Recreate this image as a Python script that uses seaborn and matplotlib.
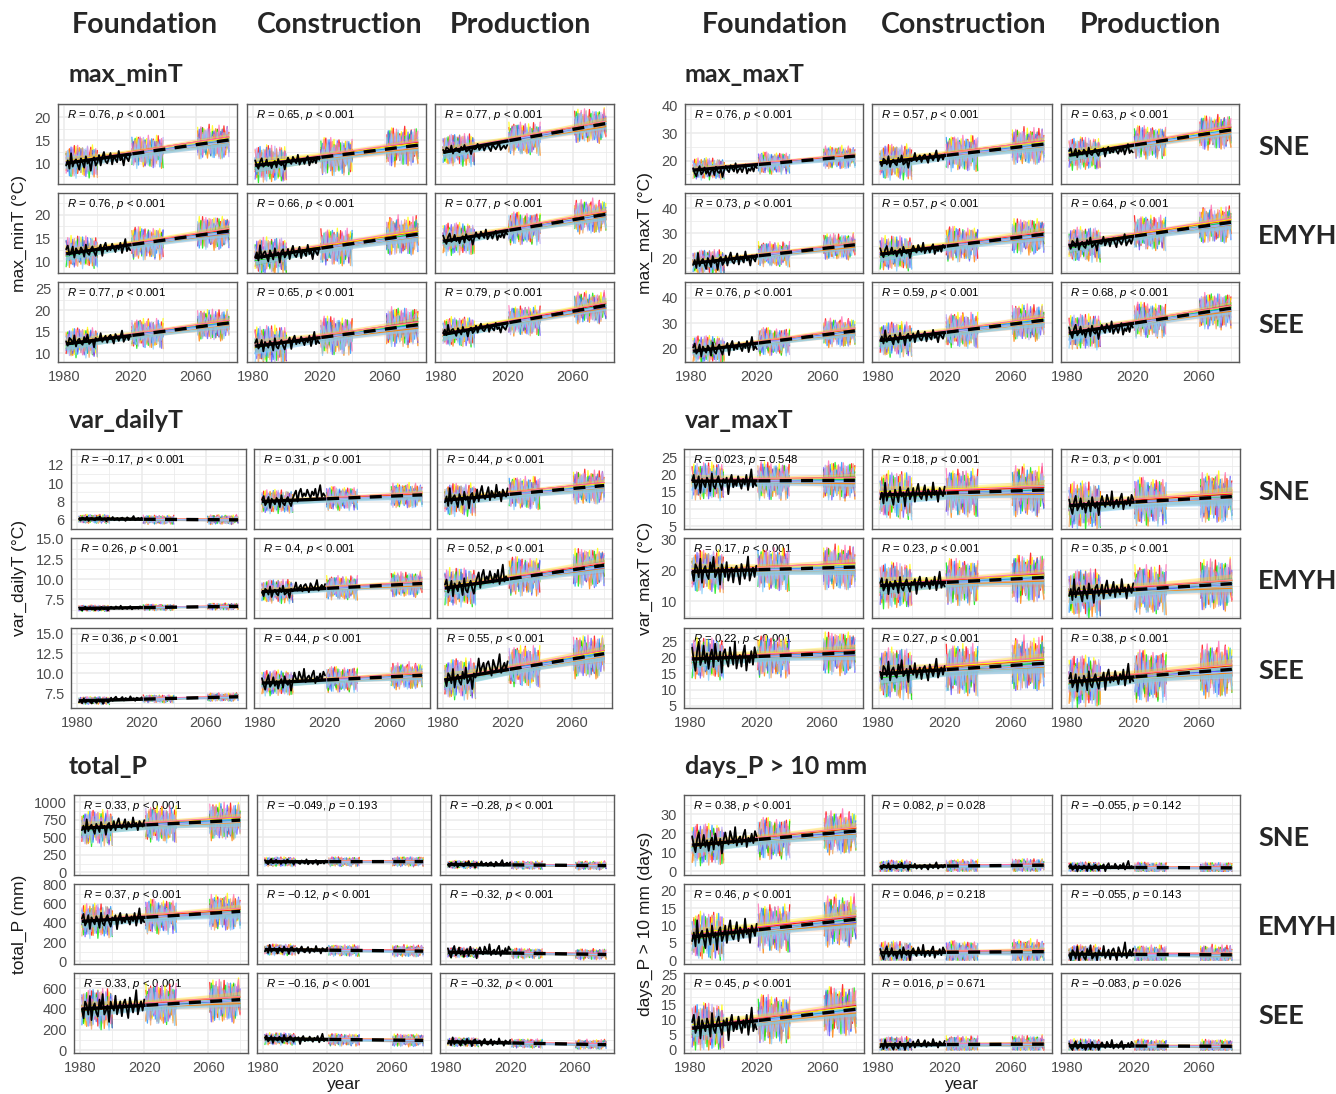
import numpy as np
import pandas as pd
import matplotlib
matplotlib.use("Agg")
import matplotlib.pyplot as plt
import seaborn as sns

sns.set_style("white")
plt.rcParams["font.family"] = ["Liberation Sans", "DejaVu Sans"]
plt.rcParams["mathtext.fontset"] = "custom"
plt.rcParams["mathtext.it"] = "Liberation Sans:italic"
plt.rcParams["mathtext.rm"] = "Liberation Sans"

W, H = 1336, 1094

stages = ["Foundation", "Construction", "Production"]
regions = ["SNE", "EMYH", "SEE"]

obs_years = np.arange(1981, 2021)
model_years = np.concatenate([np.arange(1981, 2001), np.arange(2021, 2041), np.arange(2061, 2081)])

model_colors = ["#FF0000", "#FF8000", "#FFFF00", "#00E600", "#1E90FF",
                "#6650FF", "#FF6EB4", "#F4A460", "#B9A8F5", "#87CEFA"]
band_alpha = [0.07, 0.12, 0.32, 0.2, 0.1, 0.05, 0.07, 0.2, 0.1, 0.6]
model_bias = [0.25, -0.15, 0.4, -0.35, 0.1, -0.05, 0.3, -0.25, 0.15, -0.4]
model_drift = [0.2, -0.3, 0.1, 0.35, -0.1, -0.2, 0.3, 0.0, -0.3, 0.15]

# year-to-year departures of each model run, in tenths of the panel spread
model_anoms = [
    [4,-3,7,-6,1,9,-2,-8,3,5,-4,0,6,-7,2,8,-5,1,-3,6,-2,5,-7,3,8,-4,0,6,-9,2,4,-1,-6,7,1,-3,9,-5,2,-2,6,-4,1,8,-7,3,-2,10,-5,0,4,-8,7,-1,3,-6,9,-3,2,5],
    [-5,2,8,-3,-7,4,1,-6,9,-2,3,-8,5,0,-4,7,-1,-9,6,2,3,-6,1,9,-4,-2,7,-8,4,0,-5,8,2,-7,5,-3,1,6,-9,3,-3,7,-6,2,9,-1,-8,4,6,-5,1,10,-4,-7,3,8,-2,-6,5,0],
    [1,-7,3,6,-2,-5,8,0,-4,7,-9,2,5,-3,1,-6,9,-1,4,-8,6,0,-3,8,-6,2,5,-9,1,7,-4,3,-2,6,-7,9,0,-5,4,-1,8,-6,3,-2,7,-9,1,5,-4,9,-3,0,6,-8,2,7,-5,4,-1,-7],
    [6,1,-4,-8,5,3,-6,9,-1,-3,7,-5,2,4,-9,0,6,-2,8,-4,-7,4,9,-1,-5,6,-3,2,8,-6,0,-8,5,3,-2,7,-4,-1,6,-9,2,5,-7,9,-3,-6,4,1,-8,7,0,-4,8,-2,6,-9,3,5,-1,-5],
    [-2,5,-9,4,7,-1,-4,6,2,-7,8,-3,0,5,-6,3,-8,7,-2,1,9,-5,-2,4,-8,6,1,-3,7,-4,3,-7,8,0,-5,2,6,-9,5,-1,-6,2,9,-4,0,-7,5,8,-3,1,-9,6,-1,4,7,-5,2,-3,10,-6],
    [3,-6,0,9,-4,2,-7,5,-1,8,-3,6,-9,1,4,-2,7,-5,3,-8,0,7,-4,-6,5,9,-3,1,-8,4,6,-2,3,-9,7,-5,0,8,-3,2,-5,9,-2,-8,4,6,-1,3,-7,5,8,-4,0,-6,2,9,-8,1,6,-3],
    [-8,4,2,-3,6,-7,1,9,-5,0,5,-2,-6,8,-4,3,1,-9,7,-1,4,-9,6,2,-3,8,-7,0,5,-4,9,-1,-6,3,-8,5,2,-4,7,-2,3,-5,8,-9,1,6,-3,7,-6,2,-1,5,-8,9,-2,4,-7,3,8,-4],
    [7,-4,-1,5,-8,2,6,-3,0,-6,9,-7,3,1,-5,8,-2,-4,6,-9,-1,3,8,-7,2,-5,9,-2,-6,5,-3,6,-8,1,4,-6,7,-1,-4,8,5,-9,2,7,-3,-1,8,-6,4,-2,6,-7,3,1,-9,5,-4,8,-2,7],
    [0,6,-5,-2,8,-9,4,3,-6,2,-1,7,-4,9,-3,-6,2,5,-8,4,2,-8,5,-1,7,-3,-6,9,0,-7,8,-4,1,6,-9,3,-2,5,-6,9,-7,3,-5,1,8,-4,9,-2,-6,4,2,-3,7,-9,5,0,-6,4,9,-8],
    [-3,8,-1,-7,3,5,-9,2,7,-4,1,-2,9,-6,0,4,-7,6,-3,5,-6,1,4,-9,9,-2,3,-5,6,-1,-7,5,-3,8,-2,-4,6,-8,3,1,4,-1,-9,6,-5,8,0,-3,7,-8,3,-6,5,2,-4,-9,7,-1,3,6],
]

# observed year-to-year departures, in tenths of the panel spread
obs_anoms = [
    [-3,2,-6,9,-4,1,3,-2,-7,4,0,-5,6,-1,2,-8,3,5,-3,0,4,-6,2,7,-2,-4,1,6,-5,3,0,-3,8,-1,2,-6,4,1,-2,5],
    [5,-2,-7,3,8,-4,-1,6,-3,2,-6,1,4,-5,7,0,-2,3,-8,2,5,-1,-4,6,1,-3,9,-5,0,2,-4,3,7,-6,1,-2,4,-3,6,2],
    [0,-5,4,2,-3,7,-6,1,3,-2,-4,5,0,8,-3,-1,2,-7,4,1,-2,6,-4,0,3,-5,2,4,-1,-6,5,1,-3,2,9,-4,0,3,-2,4],
    [2,6,-4,-1,5,-7,3,0,-3,4,1,-6,7,-2,-4,2,5,-1,-5,3,0,4,-8,2,6,-3,1,-2,5,0,-4,3,-1,6,-5,2,10,-3,1,-2],
]

# panel order in every list: SNE (F, C, P), EMYH (F, C, P), SEE (F, C, P)
max_minT_obs_early = [10.3, 10.0, 13.0, 12.2, 11.5, 14.8, 12.8, 12.0, 15.2]
max_minT_obs_late = [11.0, 10.6, 13.5, 12.8, 11.8, 15.5, 13.5, 12.8, 15.8]
max_minT_obs_spread = [2.2, 1.5, 1.3, 2.0, 2.2, 1.5, 2.0, 2.2, 1.6]
max_minT_hist = [10.5, 10.0, 13.0, 12.0, 11.2, 14.8, 12.5, 12.0, 15.0]
max_minT_mid = [12.5, 11.5, 15.3, 13.8, 13.0, 17.0, 14.5, 14.0, 17.5]
max_minT_end = [14.5, 13.5, 18.0, 16.0, 15.3, 19.5, 16.5, 16.0, 20.5]
max_minT_spread = [3.5, 4.0, 3.5, 3.5, 4.0, 3.5, 3.5, 4.5, 3.5]
max_minT_R = ["0.76", "0.65", "0.77", "0.76", "0.66", "0.77", "0.77", "0.65", "0.79"]
max_minT_p = ["< 0.001"] * 9

max_maxT_obs_early = [16.0, 19.5, 23.0, 18.5, 22.5, 25.5, 19.5, 24.0, 26.5]
max_maxT_obs_late = [16.8, 21.0, 23.5, 19.5, 23.5, 26.5, 20.5, 24.5, 27.5]
max_maxT_obs_spread = [2.5, 3.0, 2.5, 4.0, 3.0, 3.5, 4.0, 3.5, 3.5]
max_maxT_hist = [17.0, 19.5, 22.5, 18.5, 22.0, 25.5, 19.5, 23.5, 26.5]
max_maxT_mid = [19.0, 22.5, 26.5, 21.5, 25.5, 30.0, 22.5, 27.0, 31.0]
max_maxT_end = [21.0, 25.0, 30.0, 24.5, 28.5, 33.0, 26.0, 30.0, 34.5]
max_maxT_spread = [4.0, 6.5, 6.0, 5.0, 7.0, 7.0, 5.5, 7.0, 7.0]
max_maxT_R = ["0.76", "0.57", "0.63", "0.73", "0.57", "0.64", "0.76", "0.59", "0.68"]
max_maxT_p = ["< 0.001"] * 9

var_dailyT_obs_early = [6.1, 8.0, 8.3, 6.35, 8.4, 9.0, 6.5, 8.8, 9.3]
var_dailyT_obs_late = [6.1, 8.8, 8.8, 6.45, 9.0, 10.2, 6.8, 9.5, 10.8]
var_dailyT_obs_spread = [0.35, 1.0, 1.3, 0.3, 1.0, 1.6, 0.4, 1.2, 1.8]
var_dailyT_hist = [6.1, 8.0, 8.2, 6.4, 8.5, 9.0, 6.6, 8.8, 9.3]
var_dailyT_mid = [6.0, 8.3, 8.9, 6.5, 8.9, 10.3, 6.8, 9.2, 10.8]
var_dailyT_end = [6.0, 8.6, 9.5, 6.6, 9.3, 11.3, 7.0, 9.6, 12.0]
var_dailyT_spread = [0.5, 1.3, 1.8, 0.4, 1.5, 2.4, 0.5, 1.6, 2.6]
var_dailyT_R = ["\u22120.17", "0.31", "0.44", "0.26", "0.4", "0.52", "0.36", "0.44", "0.55"]
var_dailyT_p = ["< 0.001"] * 9

var_maxT_obs_early = [17.5, 14.0, 11.0, 19.5, 15.0, 13.0, 20.0, 15.5, 12.5]
var_maxT_obs_late = [17.5, 14.5, 12.0, 19.0, 15.5, 13.5, 19.5, 15.5, 13.5]
var_maxT_obs_spread = [4.0, 4.0, 3.5, 6.0, 4.0, 4.5, 6.0, 4.5, 4.5]
var_maxT_hist = [18.0, 14.0, 11.0, 19.5, 15.0, 12.5, 19.5, 15.0, 12.5]
var_maxT_mid = [18.0, 14.5, 12.0, 20.0, 16.0, 13.5, 20.0, 16.0, 14.0]
var_maxT_end = [18.0, 15.0, 13.0, 20.5, 17.0, 15.0, 21.0, 17.5, 15.5]
var_maxT_spread = [5.5, 7.0, 7.0, 7.0, 7.5, 8.0, 6.5, 8.0, 8.0]
var_maxT_R = ["0.023", "0.18", "0.3", "0.17", "0.23", "0.35", "0.22", "0.27", "0.38"]
var_maxT_p = ["= 0.548"] + ["< 0.001"] * 8

total_P_obs_early = [640, 150, 110, 420, 120, 95, 400, 110, 80]
total_P_obs_late = [680, 140, 120, 430, 115, 105, 420, 105, 75]
total_P_obs_spread = [130, 50, 60, 120, 55, 80, 180, 55, 50]
total_P_hist = [630, 150, 110, 420, 120, 90, 400, 110, 80]
total_P_mid = [680, 150, 100, 460, 110, 80, 440, 100, 65]
total_P_end = [720, 150, 95, 500, 105, 70, 470, 95, 55]
total_P_spread = [260, 70, 60, 180, 60, 55, 200, 60, 45]
total_P_R = ["0.33", "\u22120.049", "\u22120.28", "0.37", "\u22120.12", "\u22120.32", "0.33", "\u22120.16", "\u22120.32"]
total_P_p = ["< 0.001", "= 0.193", "< 0.001", "< 0.001", "< 0.001", "< 0.001", "< 0.001", "< 0.001", "< 0.001"]

days_P_obs_early = [15, 2.5, 2.0, 7.0, 2.0, 1.5, 8.0, 1.5, 1.2]
days_P_obs_late = [17, 2.5, 2.5, 8.0, 2.2, 2.0, 8.0, 2.0, 1.5]
days_P_obs_spread = [7, 2.5, 3.0, 5.0, 2.5, 3.5, 6.0, 2.0, 2.0]
days_P_hist = [14, 2.5, 2.0, 7.0, 2.0, 1.5, 7.5, 1.5, 1.2]
days_P_mid = [17, 2.7, 1.8, 9.0, 2.0, 1.3, 10.0, 1.6, 1.0]
days_P_end = [20, 3.0, 1.6, 11.0, 2.2, 1.2, 12.5, 1.6, 0.9]
days_P_spread = [11, 3.5, 3.0, 7.0, 3.5, 3.0, 8.0, 3.0, 2.5]
days_P_R = ["0.38", "0.082", "\u22120.055", "0.46", "0.046", "\u22120.055", "0.45", "0.016", "\u22120.083"]
days_P_p = ["< 0.001", "= 0.028", "= 0.142", "< 0.001", "= 0.218", "= 0.143", "< 0.001", "= 0.671", "= 0.026"]

ROWS_TOP = [(104, 184), (193, 273), (282, 362)]
ROWS_MID = [(449, 529), (538, 618), (628, 708)]
ROWS_BOT = [(795, 875), (884, 964), (973, 1053)]

blocks = [
    dict(title="max_minT", ytitle="max_minT (\u00b0C)", side="L", rows=ROWS_TOP,
         cols=[(58, 237), (247, 426), (435, 614)],
         ylims=[(5.7, 22.8), (7.5, 24.7), (8.0, 26.6)],
         yticks=[[10, 15, 20], [10, 15, 20], [10, 15, 20, 25]], fmt=["g", "g", "g"],
         obs_early=max_minT_obs_early, obs_late=max_minT_obs_late, obs_spread=max_minT_obs_spread,
         hist=max_minT_hist, mid=max_minT_mid, end=max_minT_end, spread=max_minT_spread,
         R=max_minT_R, p=max_minT_p, clip=False),
    dict(title="max_maxT", ytitle="max_maxT (\u00b0C)", side="R", rows=ROWS_TOP,
         cols=[(685, 863), (872, 1052), (1061, 1239)],
         ylims=[(11.5, 40.6), (14.1, 46.1), (14.6, 46.2)],
         yticks=[[20, 30, 40]] * 3, fmt=["g", "g", "g"],
         obs_early=max_maxT_obs_early, obs_late=max_maxT_obs_late, obs_spread=max_maxT_obs_spread,
         hist=max_maxT_hist, mid=max_maxT_mid, end=max_maxT_end, spread=max_maxT_spread,
         R=max_maxT_R, p=max_maxT_p, clip=False),
    dict(title="var_dailyT", ytitle="var_dailyT (\u00b0C)", side="L", rows=ROWS_MID,
         cols=[(71, 246), (254, 430), (437, 612)],
         ylims=[(5.0, 13.75), (5.2, 15.1), (5.66, 15.7)],
         yticks=[[6, 8, 10, 12], [7.5, 10, 12.5, 15], [7.5, 10, 12.5, 15]], fmt=["g", ".1f", ".1f"],
         obs_early=var_dailyT_obs_early, obs_late=var_dailyT_obs_late, obs_spread=var_dailyT_obs_spread,
         hist=var_dailyT_hist, mid=var_dailyT_mid, end=var_dailyT_end, spread=var_dailyT_spread,
         R=var_dailyT_R, p=var_dailyT_p, clip=False),
    dict(title="var_maxT", ytitle="var_maxT (\u00b0C)", side="R", rows=ROWS_MID,
         cols=[(684, 863), (872, 1052), (1061, 1240)],
         ylims=[(4.2, 27.4), (4.5, 30.4), (4.3, 29.05)],
         yticks=[[5, 10, 15, 20, 25], [10, 20, 30], [5, 10, 15, 20, 25]], fmt=["g", "g", "g"],
         obs_early=var_maxT_obs_early, obs_late=var_maxT_obs_late, obs_spread=var_maxT_obs_spread,
         hist=var_maxT_hist, mid=var_maxT_mid, end=var_maxT_end, spread=var_maxT_spread,
         R=var_maxT_R, p=var_maxT_p, clip=False),
    dict(title="total_P", ytitle="total_P (mm)", side="L", rows=ROWS_BOT,
         cols=[(74, 248), (257, 431), (440, 614)],
         ylims=[(-38, 1104), (-28, 803), (-26, 748)],
         yticks=[[0, 250, 500, 750, 1000], [0, 200, 400, 600, 800], [0, 200, 400, 600]], fmt=["g", "g", "g"],
         obs_early=total_P_obs_early, obs_late=total_P_obs_late, obs_spread=total_P_obs_spread,
         hist=total_P_hist, mid=total_P_mid, end=total_P_end, spread=total_P_spread,
         R=total_P_R, p=total_P_p, clip=True),
    dict(title="days_P > 10 mm", ytitle="days_P > 10 mm (days)", side="R", rows=ROWS_BOT,
         cols=[(684, 864), (872, 1052), (1061, 1240)],
         ylims=[(-1.9, 40.2), (-1.1, 22.0), (-1.0, 25.4)],
         yticks=[[0, 10, 20, 30], [0, 5, 10, 15, 20], [0, 5, 10, 15, 20, 25]], fmt=["g", "g", "g"],
         obs_early=days_P_obs_early, obs_late=days_P_obs_late, obs_spread=days_P_obs_spread,
         hist=days_P_hist, mid=days_P_mid, end=days_P_end, spread=days_P_spread,
         R=days_P_R, p=days_P_p, clip=True),
]

GRID = "#EBEBEB"
BORDER = "#5A5A5A"
TICKTXT = "#4D4D4D"
XLIM = (1976.05, 2084.95)
xfit = np.linspace(1981, 2080, 200)


def rect(x0, x1, y0, y1):
    return [x0 / W, 1 - y1 / H, (x1 - x0) / W, (y1 - y0) / H]


def lm(x, y, xg):
    b, a = np.polyfit(x, y, 1)
    n = len(x)
    resid = y - (a + b * x)
    s = np.sqrt(np.sum(resid ** 2) / (n - 2))
    xm = x.mean()
    sxx = np.sum((x - xm) ** 2)
    se = s * np.sqrt(1.0 / n + (xg - xm) ** 2 / sxx)
    yhat = a + b * xg
    return yhat, yhat - 2.0 * se, yhat + 2.0 * se


fig = plt.figure(figsize=(W / 100, H / 100), dpi=100)

panel_no = 0
for blk in blocks:
    for r in range(3):
        y0, y1 = blk["rows"][r]
        for c in range(3):
            k = r * 3 + c
            x0, x1 = blk["cols"][c]
            ax = fig.add_axes(rect(x0, x1, y0, y1))
            ax.set_facecolor("white")

            # model runs
            levels = [blk["hist"][k], blk["mid"][k], blk["end"][k]]
            spread = blk["spread"][k]
            frames = []
            for m in range(len(model_colors)):
                seq = np.array(model_anoms[(m + panel_no) % len(model_anoms)], dtype=float)
                vals = np.empty(60)
                for pidx, frac in enumerate((0.0, 0.5, 1.0)):
                    sl = slice(pidx * 20, pidx * 20 + 20)
                    vals[sl] = levels[pidx] + spread * (seq[sl] / 10.0
                                                        + 0.3 * (model_bias[m] + model_drift[m] * frac))
                if blk["clip"]:
                    vals = np.clip(vals, 0, None)
                frames.append(pd.DataFrame({"year": model_years, "value": vals,
                                            "model": f"m{m}",
                                            "period": np.repeat([0, 1, 2], 20)}))
            mdf = pd.concat(frames, ignore_index=True)

            # observations
            oseq = np.array(obs_anoms[panel_no % len(obs_anoms)], dtype=float)
            obs = np.where(np.arange(40) < 20, blk["obs_early"][k], blk["obs_late"][k]) \
                + blk["obs_spread"][k] * oseq / 10.0
            if blk["clip"]:
                obs = np.clip(obs, 0, None)

            sns.lineplot(data=mdf, x="year", y="value", hue="model", units="period",
                         estimator=None, palette=model_colors, legend=False,
                         lw=0.9, alpha=0.8, ax=ax, zorder=2)

            for m in range(len(model_colors)):
                sub = mdf[mdf["model"] == f"m{m}"]
                yhat, lo, hi = lm(sub["year"].to_numpy(float), sub["value"].to_numpy(), xfit)
                ax.fill_between(xfit, lo, hi, color=model_colors[m], alpha=band_alpha[m],
                                lw=0, zorder=3)
                ax.plot(xfit, yhat, color=model_colors[m], lw=0.8, alpha=0.9, zorder=3.5)

            sns.lineplot(x=obs_years, y=obs, color="black", lw=1.3, ax=ax, zorder=4)

            allx = np.concatenate([mdf["year"].to_numpy(float), obs_years.astype(float)])
            ally = np.concatenate([mdf["value"].to_numpy(), obs])
            yall, _, _ = lm(allx, ally, xfit)
            early = xfit <= 2021
            ax.plot(xfit[early], yall[early], color="black", lw=2.4, zorder=5,
                    solid_capstyle="butt")
            ax.plot(xfit[~early], yall[~early], color="black", lw=2.4, zorder=5,
                    dashes=(3.6, 2.8))

            ax.text(0.05, 0.86, f"$R$ = {blk['R'][k]}, $p$ {blk['p'][k]}",
                    transform=ax.transAxes, fontsize=8.2, va="center", ha="left",
                    color="black", zorder=1)

            # axes styling
            ax.set_xlim(*XLIM)
            ax.set_ylim(*blk["ylims"][r])
            ax.set_xticks([1980, 2020, 2060])
            ax.set_xticks([2000, 2040, 2080], minor=True)
            yt = blk["yticks"][r]
            step = yt[1] - yt[0]
            ax.set_yticks(yt)
            ax.set_yticklabels([format(v, blk["fmt"][r]) for v in yt])
            lo_l, hi_l = blk["ylims"][r]
            ymin = [v for v in np.arange(yt[0] - step / 2, hi_l, step) if lo_l < v < hi_l]
            ax.set_yticks(ymin, minor=True)
            ax.grid(which="major", color=GRID, lw=1.1, zorder=0)
            ax.grid(which="minor", color=GRID, lw=0.55, zorder=0)
            ax.set_axisbelow(True)
            ax.set_xlabel("")
            ax.set_ylabel("")
            for sp in ax.spines.values():
                sp.set_color(BORDER)
                sp.set_linewidth(1.0)
            ax.tick_params(which="minor", length=0)
            ax.tick_params(which="major", length=3, width=0.8, color="#333333",
                           labelsize=10.5, labelcolor=TICKTXT, pad=2)
            if c != 0:
                ax.tick_params(axis="y", left=False, labelleft=False)
            if r != 2:
                ax.tick_params(axis="x", bottom=False, labelbottom=False)
            else:
                ax.tick_params(axis="x", pad=3)
            panel_no += 1

    # block title and y-axis title
    gx = 69 if blk["side"] == "L" else 685
    ty = blk["rows"][0][0] - 29
    fig.text(gx / W, 1 - ty / H, blk["title"], fontsize=18, fontweight="bold",
             family=["Lato", "DejaVu Sans"], va="center", ha="left")
    ycen = (blk["rows"][0][0] + blk["rows"][2][1]) / 2
    yx = 19 if blk["side"] == "L" else 645
    fig.text(yx / W, 1 - ycen / H, blk["ytitle"], rotation=90, fontsize=12.5,
             va="center", ha="center", color="#1A1A1A")

# column headers
for xc, name in zip([145, 340, 520, 775, 964, 1150], stages * 2):
    fig.text(xc / W, 1 - 25 / H, name, fontsize=20.5, fontweight="bold",
             family=["Lato", "DejaVu Sans"], ha="center", va="center")

# region labels
for rows in (ROWS_TOP, ROWS_MID, ROWS_BOT):
    for (y0, y1), name in zip(rows, regions):
        fig.text(1258 / W, 1 - ((y0 + y1) / 2 + 3) / H, name, fontsize=19.5, fontweight="bold",
                 family=["Lato", "DejaVu Sans"], ha="left", va="center")

# shared x-axis titles
for xc in (344, 962):
    fig.text(xc / W, 1 - 1085 / H, "year", fontsize=12.5, ha="center", va="center", color="#1A1A1A")

fig.savefig("out.png", dpi=100)
